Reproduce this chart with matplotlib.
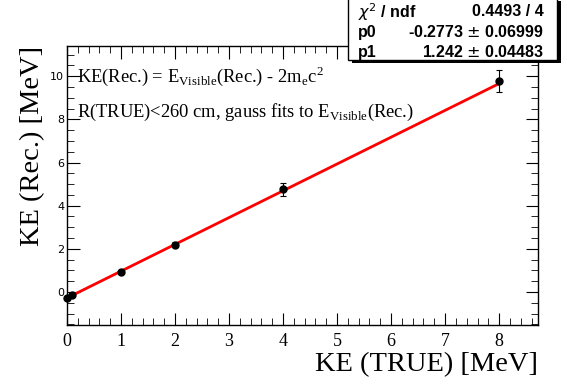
import matplotlib.pyplot as plt
from matplotlib.ticker import MultipleLocator
import numpy as np

# measured points
ke_true = [0.0, 0.1, 1.0, 2.0, 4.0, 8.0]
ke_rec = [-0.30, -0.15, 0.92, 2.20, 4.75, 9.78]
ke_err = [0.05, 0.05, 0.06, 0.10, 0.30, 0.50]
# linear fit result
p0 = -0.2773
p1 = 1.242

fig = plt.figure(figsize=(5.67, 3.84), dpi=100)
ax = fig.add_axes([67/567, 1-325/384, (538-67)/567, (325-46)/384])

eb = ax.errorbar(ke_true, ke_rec, yerr=ke_err, fmt='o', color='black', ms=5,
                 elinewidth=0.8, capsize=2, capthick=0.8, zorder=3)
for a in eb.lines[0:1]:
    a.set_clip_on(False)
xfit = np.array([0.0, 8.0])
ax.plot(xfit, p0 + p1 * xfit, color='red', lw=2, zorder=2)

ax.set_xlim(0, 8.72)
ax.set_ylim(-1.53, 11.4)
ax.xaxis.set_major_locator(MultipleLocator(1))
ax.xaxis.set_minor_locator(MultipleLocator(0.2))
ax.yaxis.set_major_locator(MultipleLocator(2))
ax.yaxis.set_minor_locator(MultipleLocator(0.5))
ax.tick_params(which='both', direction='in', top=True, right=True)
ax.tick_params(which='major', length=9, labelsize=8)
ax.tick_params(which='minor', length=5)
ax.tick_params(axis='x', pad=6, labelsize=13, labelfontfamily='Liberation Serif')
ax.tick_params(axis='y', pad=2, labelfontfamily='DejaVu Sans')
for s in ax.spines.values():
    s.set_linewidth(1.0)

ax.set_xlabel('KE (TRUE) [MeV]', fontsize=20.5, family='Liberation Serif', loc='right', labelpad=1)
ax.set_ylabel('KE (Rec.) [MeV]', fontsize=20.5, family='Liberation Serif', loc='top', labelpad=4)

ax.text(0.18, 10.0, r'KE(Rec.) = E$_{\mathregular{Visible}}$(Rec.) - 2m$_{\mathregular{e}}$c$^{\mathregular{2}}$',
        fontsize=13.3, family='Liberation Serif', va='center')
ax.text(0.18, 8.3, r'R(TRUE)<260 cm, gauss fits to E$_{\mathregular{Visible}}$(Rec.)',
        fontsize=13.3, family='Liberation Serif', va='center')

# stats box
bx0, by0, bw, bh = 348/567, 1-60/384, 209/567, 62/384
fig.patches.append(plt.Rectangle((bx0+0.007, by0-0.008), bw, bh, transform=fig.transFigure,
                                 facecolor='black', edgecolor='none', zorder=5))
fig.patches.append(plt.Rectangle((bx0, by0), bw, bh, transform=fig.transFigure,
                                 facecolor='white', edgecolor='black', lw=1, zorder=6))
rows = [(r'$\chi^2$ / ndf', '0.4493 / 4'),
        ('p0', r'-0.2773 $\pm$ 0.06999'),
        ('p1', r'1.242 $\pm$ 0.04483')]
for i, (k, v) in enumerate(rows):
    y = 1 - (12 + i * 20) / 384
    fig.text(358/567, y, k, fontsize=11.5, weight='bold', family='Liberation Sans', va='center', zorder=7)
    fig.text(544/567, y, v, fontsize=11.5, weight='bold', family='Liberation Sans', va='center', ha='right', zorder=7)

fig.savefig('out.png', dpi=100)
